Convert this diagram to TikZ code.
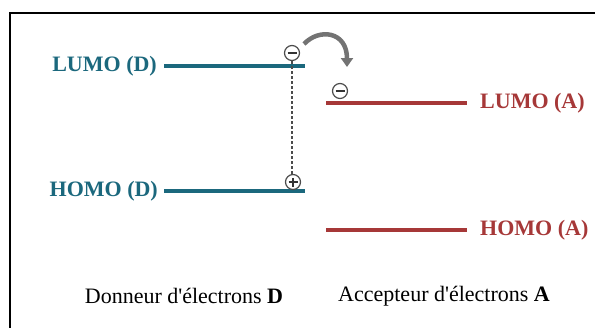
\documentclass[tikz,border=0pt]{standalone}
\usepackage{fontspec}
\setmainfont{Liberation Serif}
\usetikzlibrary{positioning,arrows.meta}
\definecolor{donneur}{RGB}{27,104,125}
\definecolor{accepteur}{RGB}{166,56,56}
\tikzset{
  niveau/.style={line width=4.5pt},
  etiq/.style={font=\fontsize{22}{24}\selectfont\bfseries, inner sep=0pt},
  legende/.style={font=\fontsize{22}{24}\selectfont, inner sep=0pt},
  charge/.style={circle, draw=black!70, line width=1.2pt, minimum size=15pt, inner sep=0pt, fill=white},
  moins/.style={charge, path picture={
      \draw[black!80, line width=1.8pt] ([xshift=-4.5pt]path picture bounding box.center) -- ([xshift=4.5pt]path picture bounding box.center);}},
  plus/.style={charge, path picture={
      \draw[black!80, line width=1.3pt] ([xshift=-4.5pt]path picture bounding box.center) -- ([xshift=4.5pt]path picture bounding box.center);
      \draw[black!80, line width=1.3pt] ([yshift=-4.5pt]path picture bounding box.center) -- ([yshift=4.5pt]path picture bounding box.center);}},
  fleche/.style={draw=black!55, line width=4.5pt, -{Triangle[width=12pt,length=9pt]}}
}

\begin{document}
\begin{tikzpicture}[x=1pt,y=-1pt]
  \useasboundingbox (0,0) rectangle (595,327);
  \draw[line width=2pt] (9.5,13.3) rectangle (620,350);
  % niveaux du donneur
  \coordinate (lumoDg) at (164,66);
  \coordinate (lumoDd) at (305,66);
  \coordinate (homoDg) at (164,191);
  \coordinate (homoDd) at (305,191);
  \draw[niveau, donneur] (lumoDg) -- (lumoDd);
  \draw[niveau, donneur] (homoDg) -- (homoDd);
  \node[etiq, donneur, left=7pt of lumoDg] (lumoD) {LUMO (D)};
  \node[etiq, donneur, left=6pt of homoDg] (homoD) {HOMO (D)};
  % niveaux de l'accepteur
  \coordinate (lumoAg) at (326,103);
  \coordinate (lumoAd) at (467,103);
  \coordinate (homoAg) at (326,230);
  \coordinate (homoAd) at (467,230);
  \draw[niveau, accepteur] (lumoAg) -- (lumoAd);
  \draw[niveau, accepteur] (homoAg) -- (homoAd);
  \node[etiq, accepteur, right=13pt of lumoAd] (lumoA) {LUMO (A)};
  \node[etiq, accepteur, right=13pt of homoAd] (homoA) {HOMO (A)};
  % charges
  \node[moins] (eD) at (292,53) {};
  \node[plus] (tD) at (293,182) {};
  \node[moins] (eA) at (340,91) {};
  \draw[black!70, dash pattern=on 3pt off 2pt, line width=1.2pt] (eD.south) -- (eD.south |- tD.north);
  \draw[fleche] ([shift={(12,-9)}]eD.center) .. controls +(15,-16) and +(0,-36) .. ([shift={(7,-24)}]eA.center);
  %
  \node[legende] (txtD) at (184,296) {Donneur d\textquotesingle électrons \textbf{D}};
  \node[legende] (txtA) at (444,296) {Accepteur d\textquotesingle électrons \textbf{A}};
\end{tikzpicture}
\end{document}
